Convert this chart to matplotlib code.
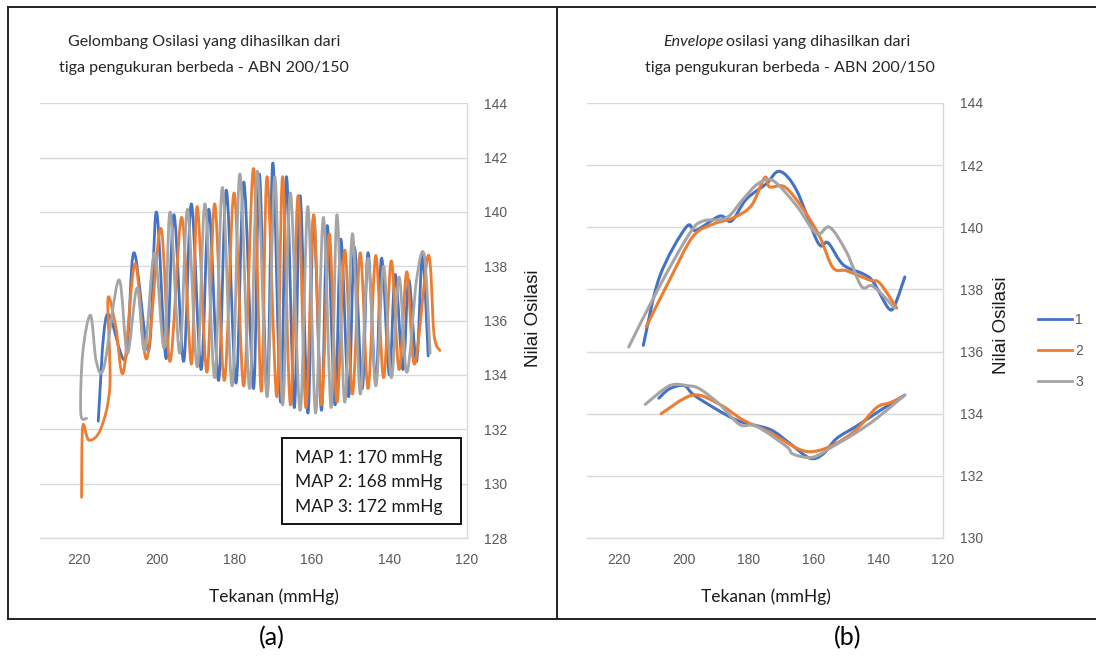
import matplotlib
matplotlib.use("Agg")
import matplotlib.pyplot as plt
from matplotlib.lines import Line2D
from matplotlib.patches import Rectangle, PathPatch
from matplotlib.path import Path

# ---------------- data ----------------
series_names = ["1", "2", "3"]
colors = ["#4472C4", "#ED7D31", "#A5A5A5"]

# (a) oscillation waveforms: pressure (mmHg) and oscillation value, trough/peak vertices
osc1_x = [215.0, 212.8, 208.0, 205.8, 202.0, 200.0, 197.5, 195.5, 193.0, 191.0, 188.5,
          186.5, 184.0, 182.0, 179.5, 177.5, 175.0, 173.5, 171.5, 170.0, 168.0, 166.5,
          164.5, 163.0, 161.0, 159.5, 157.5, 156.0, 154.0, 152.5, 150.5, 149.0, 147.0,
          145.5, 143.5, 142.0, 140.0, 138.5, 136.5, 135.0, 133.0, 131.5, 130.0]
osc1_y = [132.3, 136.2, 134.6, 138.5, 134.9, 140.0, 134.6, 139.9, 134.5, 140.3, 134.2,
          140.1, 133.8, 140.8, 133.7, 141.1, 133.5, 141.4, 133.3, 141.8, 133.0, 141.3,
          132.8, 140.6, 132.6, 139.8, 132.7, 139.5, 132.9, 139.0, 133.2, 138.7, 133.5,
          138.5, 133.7, 138.3, 134.0, 137.7, 134.2, 137.5, 134.5, 138.4, 134.7]

osc2_x = [219.3, 219.0, 217.4, 214.4, 212.0, 212.5, 210.5, 208.5, 205.5, 202.5, 198.9,
          196.5, 193.5, 191.0, 189.5, 187.0, 185.0, 182.5, 180.0, 177.5, 175.0, 173.0,
          171.5, 169.0, 167.5, 165.5, 163.5, 161.5, 159.5, 157.5, 155.5, 153.5, 151.5,
          149.5, 147.5, 145.5, 143.5, 141.5, 139.5, 137.5, 135.5, 133.5, 130.0, 128.5,
          127.0]
osc2_y = [129.5, 132.1, 131.6, 132.0, 133.6, 136.8, 135.8, 134.1, 138.1, 134.6, 139.4,
          134.5, 139.8, 134.4, 140.2, 134.1, 140.3, 133.8, 140.7, 133.6, 141.6, 133.4,
          141.3, 133.2, 141.3, 132.9, 140.6, 132.8, 139.9, 132.9, 139.2, 133.0, 138.6,
          133.3, 138.5, 133.5, 138.4, 133.9, 138.2, 134.2, 137.8, 134.4, 138.4, 135.5,
          134.9]

osc3_x = [218.0, 219.5, 219.0, 217.0, 215.5, 213.5, 209.7, 207.5, 205.0, 203.0, 200.5,
          198.0, 196.5, 194.0, 192.0, 189.5, 187.5, 185.0, 183.0, 180.5, 178.5, 176.0,
          174.0, 171.5, 169.5, 167.5, 165.5, 163.0, 161.0, 159.0, 157.0, 155.0, 153.5,
          151.5, 149.5, 147.5, 145.5, 143.5, 141.5, 139.5, 137.5, 135.5, 133.0, 131.0,
          129.5]
osc3_y = [132.4, 132.6, 134.8, 136.2, 134.5, 134.3, 137.5, 134.8, 137.2, 134.9, 138.5,
          135.0, 140.0, 134.8, 140.1, 134.3, 140.3, 133.9, 140.9, 133.6, 141.4, 133.5,
          141.5, 133.2, 141.3, 132.9, 140.7, 132.7, 140.2, 132.6, 139.8, 132.8, 139.9,
          133.0, 139.2, 133.3, 138.3, 133.6, 138.0, 133.9, 137.6, 134.1, 137.5, 138.4,
          134.8]

map_text = ["MAP 1: 170 mmHg", "MAP 2: 168 mmHg", "MAP 3: 172 mmHg"]

# (b) envelopes: upper and lower, pressure / value
up1_x = [212.6, 207.6, 199.4, 196.3, 189.0, 185.4, 180.8, 174.6, 170.5, 165.3, 158.6,
         155.5, 150.9, 144.7, 141.6, 136.9, 134.9, 131.8]
up1_y = [136.2, 138.4, 140.0, 139.9, 140.36, 140.2, 140.9, 141.4, 141.8, 141.2, 139.5,
         139.5, 138.8, 138.5, 138.25, 137.4, 137.5, 138.4]
up2_x = [211.7, 204.5, 197.3, 191.1, 184.9, 179.2, 175.1, 173.6, 168.9, 163.3, 158.1,
         154.0, 149.8, 142.6, 139.5, 134.3]
up2_y = [136.8, 138.3, 139.7, 140.1, 140.3, 140.7, 141.6, 141.3, 141.3, 140.6, 139.7,
         138.7, 138.6, 138.3, 138.2, 137.4]
up3_x = [217.1, 207.6, 198.3, 194.2, 187.0, 181.8, 177.2, 172.5, 165.3, 159.1, 155.0,
         149.8, 145.2, 141.6, 134.9]
up3_y = [136.15, 138.1, 139.8, 140.2, 140.3, 140.9, 141.4, 141.5, 140.7, 139.8, 140.0,
         139.2, 138.1, 138.1, 137.4]

lo1_x = [207.8, 204.5, 199.9, 196.3, 183.9, 173.6, 167.4, 161.2, 157.1, 152.9, 146.7,
         139.5, 131.8]
lo1_y = [134.5, 134.8, 134.9, 134.55, 133.8, 133.5, 133.05, 132.57, 132.7, 133.2, 133.6,
         134.1, 134.6]
lo2_x = [207.1, 197.3, 189.0, 181.8, 173.6, 164.3, 159.1, 152.9, 146.7, 140.5, 136.4,
         133.3]
lo2_y = [134.0, 134.6, 134.3, 133.8, 133.4, 132.85, 132.8, 133.05, 133.5, 134.2, 134.35,
         134.5]
lo3_x = [212.0, 204.5, 198.9, 195.2, 189.0, 182.8, 177.7, 168.4, 166.3, 160.2, 154.0,
         146.7, 140.5, 131.8]
lo3_y = [134.3, 134.9, 134.9, 134.8, 134.3, 133.65, 133.6, 132.95, 132.7, 132.6, 132.95,
         133.4, 133.85, 134.6]

x_ticks = [220, 200, 180, 160, 140, 120]
y_ticks_a = [128, 130, 132, 134, 136, 138, 140, 142, 144]
y_ticks_b = [130, 132, 134, 136, 138, 140, 142, 144]

# ---------------- figure ----------------
W, H = 1096, 657
fig = plt.figure(figsize=(W / 100, H / 100), dpi=100)
fig.patch.set_facecolor("white")

TITLE_FONT = ["Lato", "DejaVu Sans"]
TICK_FONT = ["Liberation Sans Narrow", "Liberation Sans", "DejaVu Sans"]
ARIAL = ["Liberation Sans", "DejaVu Sans"]


def rect(x0, y0, x1, y1):
    return [x0 / W, 1 - y1 / H, (x1 - x0) / W, (y1 - y0) / H]


def smoothed_line(ax, xs, ys, color, lw):
    """Excel-style smoothed line: Catmull-Rom rendered as cubic Bezier segments."""
    pts = list(zip(xs, ys))
    verts = [pts[0]]
    codes = [Path.MOVETO]
    n = len(pts)
    for i in range(n - 1):
        p0 = pts[i - 1] if i > 0 else pts[i]
        p1 = pts[i]
        p2 = pts[i + 1]
        p3 = pts[i + 2] if i + 2 < n else pts[i + 1]
        c1 = (p1[0] + (p2[0] - p0[0]) / 6.0, p1[1] + (p2[1] - p0[1]) / 6.0)
        c2 = (p2[0] - (p3[0] - p1[0]) / 6.0, p2[1] - (p3[1] - p1[1]) / 6.0)
        verts += [c1, c2, p2]
        codes += [Path.CURVE4] * 3
    patch = PathPatch(Path(verts, codes), facecolor="none", edgecolor=color,
                      linewidth=lw, joinstyle="round", capstyle="round")
    ax.add_patch(patch)


def style_axes(ax, yticks):
    ax.set_xlim(230, 120)
    ax.set_ylim(yticks[0], yticks[-1])
    ax.set_xticks(x_ticks)
    ax.set_yticks(yticks)
    ax.yaxis.tick_right()
    ax.grid(axis="y", color="#D9D9D9", linewidth=1.0)
    ax.set_axisbelow(True)
    for s in ["top", "left"]:
        ax.spines[s].set_visible(False)
    for s in ["right", "bottom"]:
        ax.spines[s].set_color("#D9D9D9")
        ax.spines[s].set_linewidth(1.0)
    ax.tick_params(axis="both", length=0, labelsize=10, labelcolor="#595959")
    ax.tick_params(axis="y", pad=12)
    ax.tick_params(axis="x", pad=11)
    for lab in ax.get_xticklabels() + ax.get_yticklabels():
        lab.set_family(TICK_FONT)


# ----- panel (a) -----
axa = fig.add_axes(rect(40, 103.3, 467, 538))
style_axes(axa, y_ticks_a)
for xs, ys, c in [(osc1_x, osc1_y, colors[0]), (osc2_x, osc2_y, colors[1]),
                  (osc3_x, osc3_y, colors[2])]:
    smoothed_line(axa, xs, ys, c, 2.0)

# MAP box
fig.patches.append(Rectangle((282 / W, 1 - 524 / H), (461 - 282) / W, (524 - 438) / H,
                             transform=fig.transFigure, facecolor="white",
                             edgecolor="black", linewidth=1.3, zorder=5))
for i, t in enumerate(map_text):
    fig.text(295 / W, 1 - (458 + i * 24.5) / H, t, fontsize=12.5, family=TITLE_FONT,
             color="#1a1a1a", va="center", ha="left", zorder=6)

fig.text(204 / W, 1 - 42 / H, "Gelombang Osilasi yang dihasilkan dari", fontsize=11.5,
         family=TITLE_FONT, color="#262626", ha="center", va="center")
fig.text(204 / W, 1 - 68 / H, "tiga pengukuran berbeda - ABN 200/150", fontsize=11.5,
         family=TITLE_FONT, color="#262626", ha="center", va="center")
fig.text(533 / W, 1 - 318 / H, "Nilai Osilasi", rotation=90, fontsize=13.5, family=ARIAL,
         color="#1a1a1a", ha="center", va="center")
fig.text(274 / W, 1 - 597 / H, "Tekanan (mmHg)", fontsize=12.5, family=TITLE_FONT,
         color="#1a1a1a", ha="center", va="center")

# ----- panel (b) -----
axb = fig.add_axes(rect(587, 103, 943, 538))
style_axes(axb, y_ticks_b)
for (ux, uy, lx, ly), c in zip([(up1_x, up1_y, lo1_x, lo1_y),
                                (up2_x, up2_y, lo2_x, lo2_y),
                                (up3_x, up3_y, lo3_x, lo3_y)], colors):
    smoothed_line(axb, ux, uy, c, 2.2)
    smoothed_line(axb, lx, ly, c, 2.2)

handles = [Line2D([], [], color=c, linewidth=2.0) for c in colors]
fig.legend(handles, series_names, loc="center left",
           bbox_to_anchor=(1025 / W, 1 - 351 / H), frameon=False,
           handlelength=2.45, handletextpad=0.25, labelspacing=1.2,
           labelcolor="#595959", prop={"family": TICK_FONT, "size": 10})

fig.text(724 / W, 1 - 42 / H, "Envelope", fontsize=11.5, family=TITLE_FONT,
         style="italic", color="#262626", ha="right", va="center")
fig.text(726 / W, 1 - 42 / H, "osilasi yang dihasilkan dari", fontsize=11.5,
         family=TITLE_FONT, color="#262626", ha="left", va="center")
fig.text(790 / W, 1 - 68 / H, "tiga pengukuran berbeda - ABN 200/150", fontsize=11.5,
         family=TITLE_FONT, color="#262626", ha="center", va="center")
fig.text(1002 / W, 1 - 325 / H, "Nilai Osilasi", rotation=90, fontsize=13.5, family=ARIAL,
         color="#1a1a1a", ha="center", va="center")
fig.text(766 / W, 1 - 597 / H, "Tekanan (mmHg)", fontsize=12.5, family=TITLE_FONT,
         color="#1a1a1a", ha="center", va="center")

# ----- frame (no right border in the reference) -----
frame_kw = dict(transform=fig.transFigure, color="#222222", linewidth=1.4)
fig.lines.append(Line2D([8 / W, 1.0], [1 - 6.5 / H, 1 - 6.5 / H], **frame_kw))
fig.lines.append(Line2D([8 / W, 1.0], [1 - 619 / H, 1 - 619 / H], **frame_kw))
fig.lines.append(Line2D([8 / W, 8 / W], [1 - 6.5 / H, 1 - 619 / H], **frame_kw))
fig.lines.append(Line2D([557 / W, 557 / W], [1 - 6.5 / H, 1 - 619 / H], **frame_kw))

fig.text(272 / W, 1 - 638 / H, "(a)", fontsize=18, family=TITLE_FONT, color="black",
         ha="center", va="center")
fig.text(848 / W, 1 - 638 / H, "(b)", fontsize=18, family=TITLE_FONT, color="black",
         ha="center", va="center")

fig.savefig("out.png", dpi=100)
